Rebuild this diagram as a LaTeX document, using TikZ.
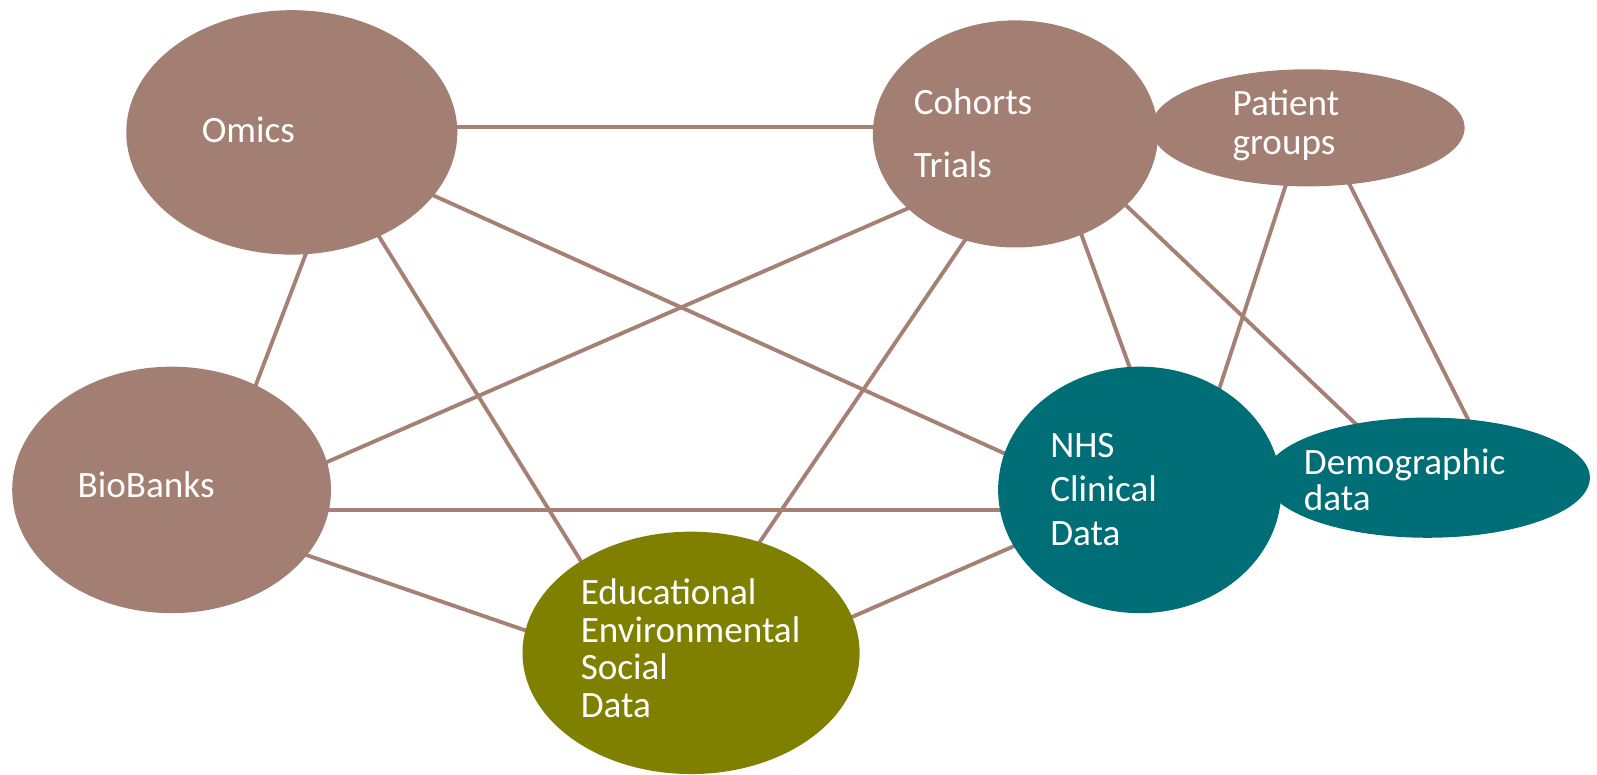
\documentclass[tikz,border=0pt]{standalone}
\usepackage{fontspec}
\setmainfont{Carlito}
\usetikzlibrary{shapes.geometric}
\pgfdeclarelayer{links}
\pgfsetlayers{links,main}
\definecolor{mauve}{RGB}{163,126,114}
\definecolor{linkbrown}{RGB}{166,128,117}
\definecolor{tealblue}{RGB}{0,110,119}
\definecolor{olivegreen}{RGB}{128,128,0}
\tikzset{
  blob/.style={ellipse, draw=none, inner sep=0pt, outer sep=0pt},
  label36/.style={text=white, anchor=base west, align=left, inner sep=0pt,
    font=\fontsize{36.5}{37}\selectfont},
  link/.style={draw=linkbrown, line width=3.8pt, shorten <=-8pt, shorten >=-8pt}
}
\begin{document}
\begin{tikzpicture}[x=1pt, y=-1pt]
\useasboundingbox (0,0) rectangle (1568,760);

% ellipses
\node[blob, fill=mauve, minimum width=325pt, minimum height=240pt] (omics) at (286.5,130) {};
\node[blob, fill=mauve, minimum width=280pt, minimum height=223pt] (cohorts) at (997,131.5) {};
\node[blob, fill=mauve, minimum width=308pt, minimum height=115pt] (patient) at (1284,125.5) {};
\node[blob, fill=mauve, minimum width=313pt, minimum height=242pt] (biobanks) at (168.5,481) {};
\node[blob, fill=tealblue, minimum width=278pt, minimum height=242pt] (nhs) at (1119,481) {};
\node[blob, fill=tealblue, minimum width=319pt, minimum height=118pt] (demo) at (1401.5,469) {};
\node[blob, fill=olivegreen, minimum width=331pt, minimum height=238pt] (edu) at (678.5,641) {};

% labels (anchored at the baseline of their last line)
\node[label36] (tomics) at (198,139.5) {Omics};
\node[label36] (tcohorts) at (897,174.5) {Cohorts\\[25pt]Trials};
\node[label36, font=\fontsize{36.5}{38}\selectfont] (tpatient) at (1210,151.5) {Patient\\groups};
\node[label36] (tbio) at (76,488.5) {BioBanks};
\node[label36, font=\fontsize{36.5}{43}\selectfont] (tnhs) at (1031,535.5) {NHS\\Clinical\\Data};
\node[label36, font=\fontsize{36.5}{36}\selectfont] (tdemo) at (1280,501.5) {Demographic\\data};
\node[label36] (tedu) at (570,704.5) {Educational\\Environmental\\Social\\Data};

% connections, drawn beneath the ellipses
\begin{pgfonlayer}{links}
\draw[link] ([shift={(162.5,-5.5)}]omics.center) -- ([shift={(-140,-7)}]cohorts.center);
\draw[link] ([shift={(13.5,120)}]omics.center) -- ([shift={(81.5,-100)}]biobanks.center);
\draw[link] ([shift={(85.5,102)}]omics.center) -- ([shift={(-107.5,-89)}]edu.center);
\draw[link] ([shift={(141.5,63)}]omics.center) -- ([shift={(-131,-35)}]nhs.center);
\draw[link] ([shift={(-102,71.5)}]cohorts.center) -- ([shift={(149.5,-26)}]biobanks.center);
\draw[link] ([shift={(-49,103.5)}]cohorts.center) -- ([shift={(65.5,-106)}]edu.center);
\draw[link] ([shift={(65,99.5)}]cohorts.center) -- ([shift={(-9,-118)}]nhs.center);
\draw[link] ([shift={(110,71.5)}]cohorts.center) -- ([shift={(-68.5,-51)}]demo.center);
\draw[link] ([shift={(-22,57.5)}]patient.center) -- ([shift={(78,-99)}]nhs.center);
\draw[link] ([shift={(41,55.5)}]patient.center) -- ([shift={(39.5,-58)}]demo.center);
\draw[link] ([shift={(156.5,19.5)}]biobanks.center) -- ([shift={(-139,19.5)}]nhs.center);
\draw[link] ([shift={(132.5,64)}]biobanks.center) -- ([shift={(-162.5,-22)}]edu.center);
\draw[link] ([shift={(157.5,-35)}]edu.center) -- ([shift={(-123,55)}]nhs.center);
\end{pgfonlayer}
\end{tikzpicture}
\end{document}
